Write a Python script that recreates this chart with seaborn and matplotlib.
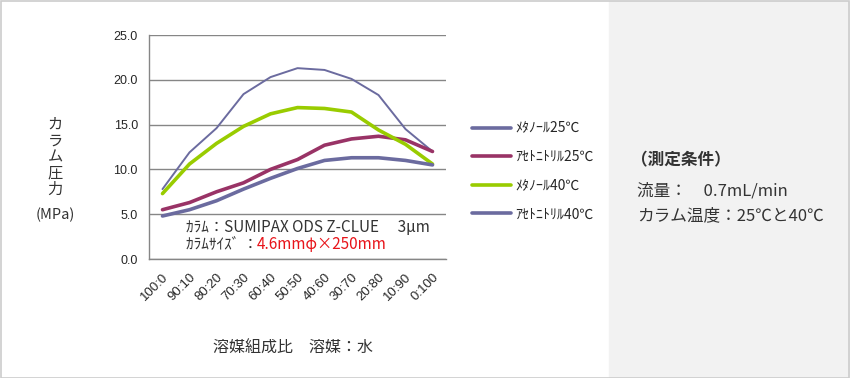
import numpy as np
import pandas as pd
import seaborn as sns
import matplotlib
matplotlib.use("Agg")
import matplotlib.pyplot as plt
from matplotlib.patches import Rectangle
from matplotlib.lines import Line2D

ratios = ["100:0", "90:10", "80:20", "70:30", "60:40", "50:50",
          "40:60", "30:70", "20:80", "10:90", "0:100"]
series_names = ["ﾒﾀﾉｰﾙ25℃", "ｱｾﾄﾆﾄﾘﾙ25℃", "ﾒﾀﾉｰﾙ40℃", "ｱｾﾄﾆﾄﾘﾙ40℃"]
meoh_25 = [7.8, 11.9, 14.6, 18.4, 20.3, 21.3, 21.1, 20.1, 18.3, 14.5, 12.0]
acn_25 = [5.5, 6.3, 7.5, 8.5, 10.0, 11.1, 12.7, 13.4, 13.7, 13.3, 12.0]
meoh_40 = [7.3, 10.6, 12.9, 14.8, 16.2, 16.9, 16.8, 16.4, 14.4, 12.8, 10.6]
acn_40 = [4.8, 5.5, 6.5, 7.8, 9.0, 10.1, 11.0, 11.3, 11.3, 11.0, 10.5]
yticks = [0, 5, 10, 15, 20, 25]

colors = ["#6b6b9f", "#993366", "#99cc00", "#6b6b9f"]
widths = [1.4, 2.6, 2.6, 2.6]

sns.set_style("white")
plt.rcParams['font.family'] = ['Noto Sans CJK JP', 'DejaVu Sans']

df = pd.DataFrame({
    "ratio": ratios * 4,
    "pos": list(range(len(ratios))) * 4,
    "pressure": meoh_25 + acn_25 + meoh_40 + acn_40,
    "series": np.repeat(series_names, len(ratios)),
})

W, H = 850, 378
fig = plt.figure(figsize=(W / 100, H / 100), dpi=100)

def fx(px):
    return px / W

def fy(py):
    return 1 - py / H

# right info panel and outer border
fig.patches.append(Rectangle((fx(609), fy(377)), fx(240), (376) / H,
                             transform=fig.transFigure, color="#f2f2f2", zorder=0))
fig.patches.append(Rectangle((0.5 / W, 0.5 / H), 1 - 1.5 / W, 1 - 1.5 / H,
                             transform=fig.transFigure, fill=False,
                             edgecolor="#cccccc", linewidth=1.2, zorder=5))

ax = fig.add_axes([fx(149), fy(259), fx(297), (259 - 35) / H])
for name, c, w in zip(series_names, colors, widths):
    sns.lineplot(data=df[df["series"] == name], x="pos", y="pressure",
                 color=c, linewidth=w, ax=ax, legend=False)

ax.set_xlim(-0.5, len(ratios) - 0.5)
ax.set_ylim(0, 25)
ax.set_yticks(yticks)
ax.set_yticklabels([f"{v:.1f}" for v in yticks], fontsize=9,
                   family=['Liberation Sans', 'DejaVu Sans'])
ax.set_xticks(np.arange(len(ratios)))
ax.set_xticklabels(ratios, rotation=45, ha="right", va="top", fontsize=9.5,
                   family=['Liberation Sans', 'DejaVu Sans'],
                   rotation_mode="anchor")
ax.set_xticks(np.arange(-0.5, len(ratios)), minor=True)
ax.tick_params(axis="x", which="major", length=0, pad=9)
ax.tick_params(axis="x", which="minor", length=4, color="#868686", direction="out")
ax.tick_params(axis="y", length=4, color="#868686", direction="out", pad=4)
ax.set_xlabel("")
ax.set_ylabel("")
ax.grid(axis="y", color="#868686", linewidth=1)
for s in ["top", "right"]:
    ax.spines[s].set_visible(False)
for s in ["left", "bottom"]:
    ax.spines[s].set_color("#868686")
    ax.spines[s].set_linewidth(1)

# column info inside plot
fig.text(fx(186), fy(227), "ｶﾗﾑ：SUMIPAX ODS Z-CLUE　 3μm",
         fontsize=11, color="#333333", va="center")
fig.text(fx(186), fy(244), "ｶﾗﾑｻｲｽﾞ ：", fontsize=11, color="#333333", va="center")
fig.text(fx(257), fy(244), "4.6mmφ×250mm", fontsize=11, color="#e8141a", va="center")

# legend
handles = [Line2D([0], [0], color=c, linewidth=2.6) for c in colors]
fig.legend(handles, series_names, loc="upper left",
           bbox_to_anchor=(fx(460), fy(109)), frameon=False, fontsize=10,
           handlelength=2.8, handletextpad=0.3, labelspacing=1.05)

# axis titles
fig.text(fx(55), fy(157), "カ\nラ\nム\n圧\n力", ha="center", va="center",
         fontsize=11, color="#333333", linespacing=0.95)
fig.text(fx(55), fy(215), "(MPa)", ha="center", va="center",
         fontsize=10.5, color="#333333")
fig.text(fx(293), fy(348), "溶媒組成比　溶媒：水", ha="center", va="center",
         fontsize=11.5, color="#333333")

# measurement conditions
fig.text(fx(631), fy(160), "（測定条件）", fontsize=12, fontweight="bold",
         color="#333333", va="center")
fig.text(fx(637), fy(191), "流量：　0.7mL/min", fontsize=12,
         color="#333333", va="center")
fig.text(fx(637), fy(216), "カラム温度：25℃と40℃", fontsize=12,
         color="#333333", va="center")

fig.savefig("out.png", dpi=100)
